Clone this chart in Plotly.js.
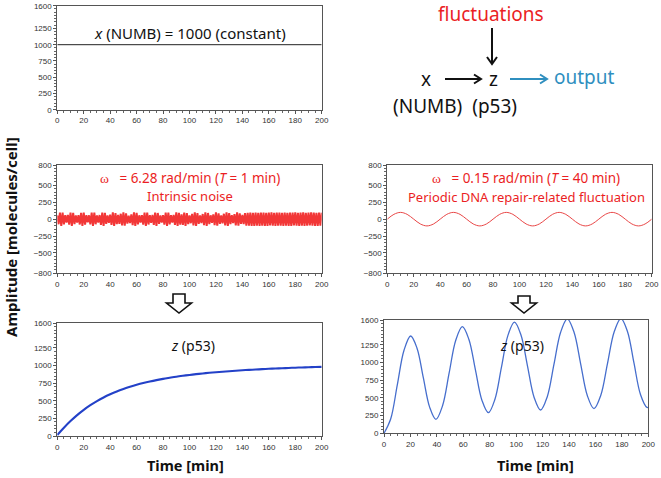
<!DOCTYPE html>
<html>
<head>
<meta charset="utf-8">
<script src="https://cdn.plot.ly/plotly-3.0.1.min.js"></script>
<style>html,body{margin:0;padding:0;background:#fff;}#chart{width:661px;height:478px;}</style>
</head>
<body>
<div id="chart"></div>
<script>
// ---------------- DATA ----------------
const timeConst = [0, 200];
const numbConst = [1000, 1000];

// intrinsic noise (T = 1 min), sampled every 1 min from t = 0
const noiseStart = 0;
const noiseStep = 1;
const noiseValues = [
  55,-75,95,-100,96,-78,58,-50,
  62,-82,97,-100,93,-72,55,-52,
  58,-79,94,-99,97,-80,60,-48,
  57,-77,96,-100,95,-75,56,-51,
  61,-83,98,-100,92,-70,54,-53,
  66,-85,99,-98,90,-74,63,-70,
  80,-92,100,-96,85,-66,52,-58,
  72,-88,99,-100,94,-76,57,-50,
  59,-80,96,-100,95,-79,60,-54,
  64,-84,98,-99,91,-71,55,-52,
  60,-81,95,-100,97,-77,58,-49,
  63,-86,100,-100,93,-80,70,-85,
  96,-100,90,-72,56,-60,78,-92,
  100,-98,88,-70,55,-58,76,-90,
  99,-100,91,-74,57,-55,72,-89,
  100,-97,86,-68,54,-61,80,-94,
  100,-99,89,-73,58,-57,75,-91,
  100,-96,84,-70,62,-75,88,-95,
  92,-97,95,-100,94,-98,96,-95,
  93,-99,97,-96,95,-100,92,-98,
  96,-94,99,-97,93,-100,95,-96,
  98,-95,92,-99,96,-97,94,-100,
  95,-98,97,-94,99,-96,93,-99,
  97,-95,100,-98,94,-97,96,-93,
  99,-96,95,-100,92,-98,97,-95,
  96
];

// periodic DNA repair-related fluctuation (T = 40 min)
const periodicTime = [0,5,10,15,20,25,30,35,40,45,50,55,60,65,70,75,80,85,90,95,100,
  105,110,115,120,125,130,135,140,145,150,155,160,165,170,175,180,185,190,195,200];
const periodicValues = [0,71,100,71,0,-71,-100,-71,0,71,100,71,0,-71,-100,-71,0,71,100,71,0,
  -71,-100,-71,0,71,100,71,0,-71,-100,-71,0,71,100,71,0,-71,-100,-71,0];

// z (p53) response to intrinsic noise
const zNoiseTime = [0,5,10,15,20,25,30,35,40,45,50,55,60,65,70,75,80,85,90,95,100,
  105,110,115,120,125,130,135,140,145,150,155,160,165,170,175,180,185,190,195,200];
const zNoiseValues = [15,118,212,297,372,438,496,547,592,632,667,698,726,751,773,793,811,827,842,855,867,
  878,888,897,905,913,920,927,933,939,944,949,954,958,962,966,970,973,976,979,982];

// z (p53) response to periodic fluctuation
const zPeriodicTime = [0,5.05,10.1,15.15,20.2,24.98,29.75,34.53,39.3,44.3,49.3,54.3,59.3,
  64.2,69.15,74.08,79.0,83.9,88.85,93.78,98.7,103.65,108.6,113.55,118.5,123.55,128.6,133.65,138.7,
  143.75,148.8,153.85,158.9,164.0,169.1,174.2,179.3,184.23,189.15,194.08,199.0,200];
const zPeriodicValues = [0,201,687,1173,1374,1202,786,370,198,389,852,1315,1506,
  1329,899,468,291,478,931,1383,1570,1389,950,510,329,517,972,1427,1615,
  1430,982,533,348,534,984,1434,1620,1437,993,548,365,368];

const xTickVals = [0,20,40,60,80,100,120,140,160,180,200];
const yTickValsPos = [0,250,500,750,1000,1250,1600];
const yTickValsSym = [-800,-500,-250,0,250,500,800];

// ---------------- LAYOUT HELPERS ----------------
const W = 661, H = 478;
const px = v => v / W;
const py = v => 1 - v / H;

const tickFont = {family: 'Liberation Sans, Arial, sans-serif', size: 8, color: '#333'};
function xAx(x0, x1) {
  return {
    domain: [px(x0), px(x1)], range: [0, 200], tickmode: 'array', tickvals: xTickVals,
    ticks: 'outside', ticklen: 3, tickcolor: '#555', tickfont: tickFont,
    showline: true, linecolor: '#555', linewidth: 1, mirror: true,
    showgrid: false, zeroline: false, fixedrange: true,
    minor: {tickmode: 'linear', tick0: 0, dtick: 5, ticks: 'outside', ticklen: 2, tickcolor: '#666', showgrid: false}
  };
}
function yAx(y0, y1, range, vals) {
  return {
    domain: [py(y1), py(y0)], range: range, tickmode: 'array', tickvals: vals,
    ticks: 'outside', ticklen: 3, tickcolor: '#555', tickfont: tickFont,
    showline: true, linecolor: '#555', linewidth: 1, mirror: true,
    showgrid: false, zeroline: false, fixedrange: true,
    minor: {tickmode: 'linear', tick0: 0, dtick: 50, ticks: 'outside', ticklen: 2, tickcolor: '#666', showgrid: false}
  };
}

const red = 'rgb(235,30,36)';
const blue = '#2f8fbf';

const traces = [
  {x: timeConst, y: numbConst, xaxis: 'x', yaxis: 'y', mode: 'lines', line: {color: '#222', width: 1}, hoverinfo: 'skip'},
  {x0: noiseStart, dx: noiseStep, y: noiseValues, xaxis: 'x2', yaxis: 'y2', mode: 'lines', line: {color: 'rgba(240,20,20,0.85)', width: 2, simplify: false}, hoverinfo: 'skip'},
  {x: periodicTime, y: periodicValues, xaxis: 'x3', yaxis: 'y3', mode: 'lines', line: {color: 'rgb(232,70,70)', width: 1, shape: 'spline'}, hoverinfo: 'skip'},
  {x: zNoiseTime, y: zNoiseValues, xaxis: 'x4', yaxis: 'y4', mode: 'lines', line: {color: 'rgb(35,65,200)', width: 2.1, shape: 'spline'}, hoverinfo: 'skip'},
  {x: zPeriodicTime, y: zPeriodicValues, xaxis: 'x5', yaxis: 'y5', mode: 'lines', line: {color: 'rgb(70,110,205)', width: 1.3, shape: 'spline'}, hoverinfo: 'skip'}
];

const txtFont = (size, color) => ({family: 'Noto Sans, Open Sans, sans-serif', size: size, color: color || '#111'});
function ann(text, x, y, size, color, extra) {
  return Object.assign({text: text, xref: 'paper', yref: 'paper', x: px(x), y: py(y),
    xanchor: 'center', yanchor: 'middle', showarrow: false, font: txtFont(size, color)}, extra || {});
}
const omega = '<span style="font-family:Liberation Serif,serif">ω</span>\u00a0\u00a0\u00a0';

const annotations = [
  ann('<i>x</i> (NUMB) = 1000 (constant)', 190, 33, 15),
  ann(omega + '= 6.28 rad/min (<i>T</i> = 1 min)', 190, 178, 13.5, red),
  ann('Intrinsic noise', 190, 196, 13, red),
  ann(omega + '= 0.15 rad/min (<i>T</i> = 40 min)', 526, 178, 13.5, red),
  ann('Periodic DNA repair-related fluctuation', 526, 196.5, 13, red),
  ann('<i>z</i> (p53)', 193, 345, 14),
  ann('<i>z</i> (p53)', 522, 345, 14),
  ann('<b>Time [min]</b>', 186, 465, 14.5),
  ann('<b>Time [min]</b>', 535, 465, 14.5),
  ann('<b>Amplitude [molecules/cell]</b>', 11, 237, 15, '#111', {textangle: -90}),
  ann('fluctuations', 491, 14, 19, red),
  ann('x', 426, 79, 19),
  ann('z', 493, 79, 19),
  ann('output', 584, 77, 19, blue),
  ann('(NUMB)\u00a0\u00a0(p53)', 455, 106, 19)
];

function pathOf(points) {
  return 'M ' + points.map(p => px(p[0]) + ',' + py(p[1])).join(' L ') + ' Z';
}
function openPath(points) {
  return 'M ' + points.map(p => px(p[0]) + ',' + py(p[1])).join(' L ');
}
function blockArrow(cx, top, neck, tip, stemHalf, headHalf) {
  return {type: 'path', xref: 'paper', yref: 'paper',
    path: pathOf([[cx - stemHalf, top], [cx + stemHalf, top], [cx + stemHalf, neck], [cx + headHalf, neck],
      [cx, tip], [cx - headHalf, neck], [cx - stemHalf, neck]]),
    fillcolor: 'white', line: {color: '#111', width: 1.6}};
}
function lineArrow(pts, head, color) {
  return [
    {type: 'path', xref: 'paper', yref: 'paper', path: openPath(pts), line: {color: color, width: 2}},
    {type: 'path', xref: 'paper', yref: 'paper', path: openPath(head), line: {color: color, width: 2}}
  ];
}

const shapes = [
  blockArrow(179, 294, 303, 313, 6, 12.5),
  blockArrow(524, 296, 303, 313, 6, 12.5),
  ...lineArrow([[492, 28], [492, 64]], [[487, 57], [492, 64], [497, 57]], '#111'),
  ...lineArrow([[445, 79], [481, 79]], [[474, 74.5], [481, 79], [474, 83.5]], '#111'),
  ...lineArrow([[510, 79], [547, 79]], [[540, 74.5], [547, 79], [540, 83.5]], blue)
];

const layout = {
  width: W, height: H, margin: {l: 0, r: 0, t: 0, b: 0},
  paper_bgcolor: 'white', plot_bgcolor: 'white', showlegend: false,
  xaxis: xAx(57.3, 321.7), yaxis: yAx(5.7, 109.7, [0, 1600], yTickValsPos),
  xaxis2: xAx(57.3, 321.7), yaxis2: yAx(165, 273.3, [-800, 800], yTickValsSym),
  xaxis3: xAx(387.3, 651.7), yaxis3: yAx(165, 273.3, [-800, 800], yTickValsSym),
  xaxis4: xAx(57.3, 321.7), yaxis4: yAx(323.3, 436, [0, 1600], yTickValsPos),
  xaxis5: xAx(384, 648.3), yaxis5: yAx(320, 433.3, [0, 1600], yTickValsPos),
  annotations: annotations, shapes: shapes
};
['', '2', '3', '4', '5'].forEach(s => {
  layout['xaxis' + s].anchor = 'y' + s;
  layout['yaxis' + s].anchor = 'x' + s;
});

Plotly.newPlot('chart', traces, layout, {staticPlot: true, displayModeBar: false});
</script>
</body>
</html>
